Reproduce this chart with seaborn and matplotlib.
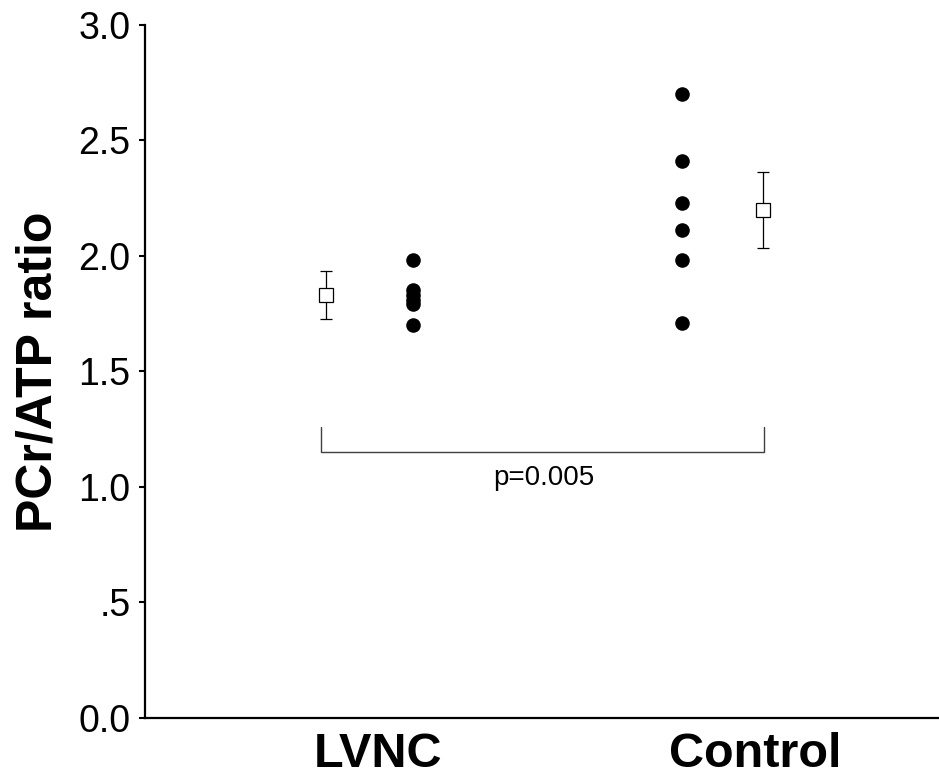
import pandas as pd
import matplotlib
matplotlib.use("Agg")
import matplotlib.pyplot as plt
import seaborn as sns

# Data
groups = ["LVNC", "Control"]
lvnc_values = [1.98, 1.85, 1.83, 1.81, 1.79, 1.70]
control_values = [2.70, 2.41, 2.23, 2.11, 1.98, 1.71]
group_means = [1.83, 2.20]
group_sems = [0.105, 0.165]
p_label = "p=0.005"
y_ticks = [0.0, 0.5, 1.0, 1.5, 2.0, 2.5, 3.0]
y_tick_labels = ["0.0", ".5", "1.0", "1.5", "2.0", "2.5", "3.0"]

# horizontal placement relative to each group's label
point_offset = [0.093, -0.194]
mean_offset = [-0.138, 0.021]

rows = []
for i, vals in enumerate([lvnc_values, control_values]):
    for v in vals:
        rows.append({"Group": groups[i], "x": i + point_offset[i], "ratio": v})
df = pd.DataFrame(rows)

sns.set_style("ticks")
plt.rcParams["font.family"] = ["Liberation Sans", "DejaVu Sans"]
plt.rcParams["text.color"] = "black"
plt.rcParams["axes.labelcolor"] = "black"
plt.rcParams["xtick.color"] = "black"
plt.rcParams["ytick.color"] = "black"
plt.rcParams["axes.edgecolor"] = "black"

fig = plt.figure(figsize=(9.39, 7.76), dpi=100)
ax = fig.add_axes([0.154, 0.075, 0.846, 0.893])

sns.scatterplot(data=df, x="x", y="ratio", color="black", s=110,
                edgecolor="black", linewidth=0, ax=ax, legend=False)

mean_x = [i + mean_offset[i] for i in range(len(groups))]
ax.errorbar(mean_x, group_means, yerr=group_sems, fmt="none",
            ecolor="black", elinewidth=0.9, capsize=4, capthick=0.9)
ax.plot(mean_x, group_means, "s", mfc="white", mec="black", mew=0.9, ms=10)

# significance bracket
bracket_x = [-0.151, 1.024]
ax.plot([bracket_x[0], bracket_x[0], bracket_x[1], bracket_x[1]],
        [1.257, 1.15, 1.15, 1.257], color="#404040", lw=1.0)
ax.text(0.44, 1.04, p_label, ha="center", va="center", fontsize=20)

ax.set_xlim(-0.618, 1.488)
ax.set_ylim(0, 3.0)
ax.set_yticks(y_ticks)
ax.set_yticklabels(y_tick_labels, fontsize=27)
ax.set_xticks(range(len(groups)))
ax.set_xticklabels(groups, fontsize=35, fontweight="bold")
ax.tick_params(axis="x", length=0, pad=10)
ax.tick_params(axis="y", length=4, width=1.5, pad=6)
ax.set_xlabel("")
ax.set_ylabel("PCr/ATP ratio", fontsize=36, fontweight="bold", labelpad=12)

sns.despine(ax=ax)
for side in ["left", "bottom"]:
    ax.spines[side].set_linewidth(1.6)

fig.savefig("out.png", dpi=100)
